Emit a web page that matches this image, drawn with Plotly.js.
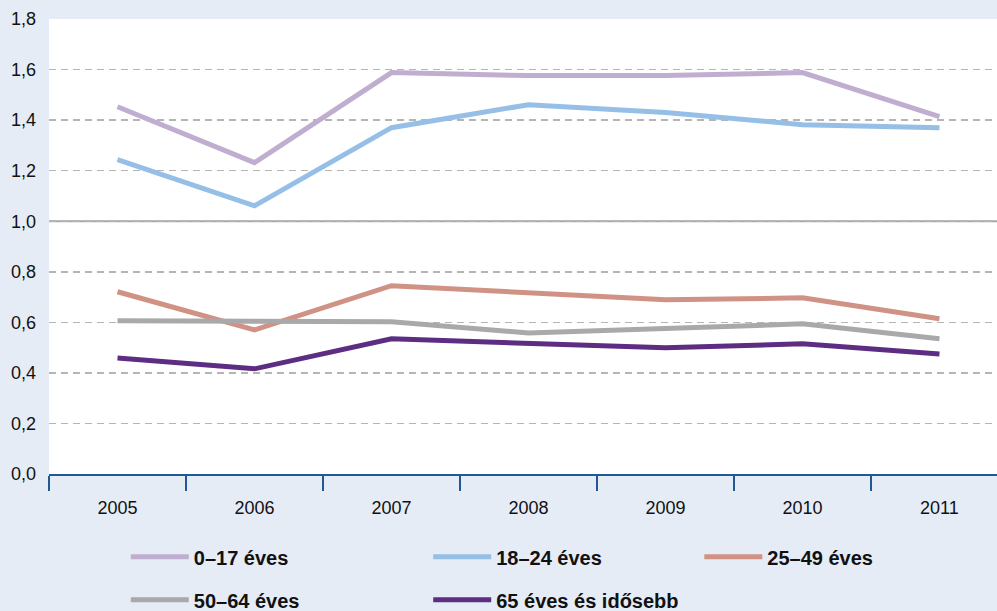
<!DOCTYPE html>
<html><head><meta charset="utf-8">
<script src="https://cdn.plot.ly/plotly-3.0.1.min.js"></script>
<style>html,body{margin:0;padding:0;background:#e6ecf6;}</style>
</head><body><div id="chart" style="width:997px;height:611px;"></div>
<script>
const years = ["2005","2006","2007","2008","2009","2010","2011"];
const seriesNames = ["0–17 éves","18–24 éves","25–49 éves","50–64 éves","65 éves és idősebb"];
const age0_17  = [1.453, 1.232, 1.588, 1.576, 1.576, 1.588, 1.414];
const age18_24 = [1.244, 1.061, 1.370, 1.461, 1.430, 1.382, 1.370];
const age25_49 = [0.721, 0.570, 0.745, 0.717, 0.689, 0.697, 0.614];
const age50_64 = [0.606, 0.602, 0.602, 0.558, 0.574, 0.594, 0.535];
const age65p   = [0.459, 0.416, 0.535, 0.519, 0.499, 0.515, 0.475];
const colors = ["#c0aed0","#95bfe6","#d09285","#a9a9ab","#5c2d82"];
const values = [age0_17, age18_24, age25_49, age50_64, age65p];
const legendIds = ["legend","legend2","legend3","legend","legend2"];

const FONT = "Liberation Sans Narrow, Liberation Sans, sans-serif";
const traces = values.map((v,i)=>({
  x: years, y: v, type:"scatter", mode:"lines", name: seriesNames[i],
  line:{color:colors[i], width:5}, legend: legendIds[i], legendgroup:"g"+i
}));

const legendCommon = {
  orientation:"v", bgcolor:"rgba(0,0,0,0)", tracegroupgap:14,
  font:{family:FONT, size:20, color:"#111", weight:"bold"},
  xanchor:"left", yanchor:"top", itemwidth:58, y:-0.139
};
const layout = {
  width:997, height:611,
  paper_bgcolor:"#e6ecf6", plot_bgcolor:"#ffffff",
  margin:{l:49, r:0, t:19, b:137, autoexpand:false},
  showlegend:true,
  font:{family:FONT, size:18, color:"#111"},
  separators:",.",
  xaxis:{type:"category", range:[-0.5,6.42], tickson:"boundaries", ticks:"outside",
    ticklen:15, tickwidth:2, tickcolor:"#1f5a96", showline:true, linecolor:"#1f5a96", linewidth:2,
    showgrid:false, zeroline:false, ticklabelstandoff:16, tickfont:{family:FONT,size:18,color:"#111"}},
  yaxis:{range:[0,1.8], dtick:0.2, tickformat:".1f", showgrid:true, gridcolor:"#b5b5b5",
    gridwidth:1.5, griddash:"7px,5px", zeroline:false, showline:false, ticks:"",
    ticklabelstandoff:12, tickfont:{family:FONT,size:18,color:"#111"}},
  shapes:[{type:"line", xref:"paper", x0:0, x1:1, yref:"y", y0:1, y1:1,
    line:{color:"#a8a8aa", width:2}, layer:"below"}],
  legend: Object.assign({}, legendCommon, {x:0.081}),
  legend2: Object.assign({}, legendCommon, {x:0.400}),
  legend3: Object.assign({}, legendCommon, {x:0.686})
};
Plotly.newPlot("chart", traces, layout, {displayModeBar:false, staticPlot:true});
</script>
</body></html>
